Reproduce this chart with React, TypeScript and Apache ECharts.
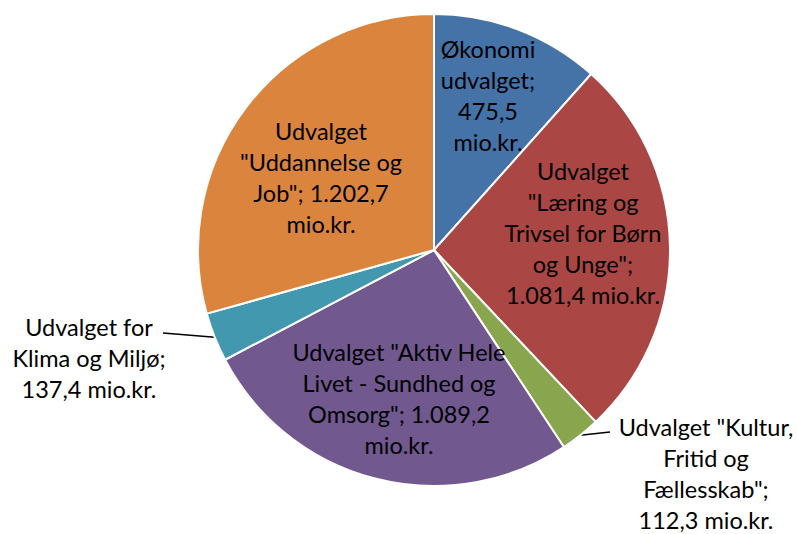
import React, { useEffect, useRef } from "react";
import * as echarts from "echarts";

const categories = [
  "Økonomiudvalget",
  "Udvalget \"Læring og Trivsel for Børn og Unge\"",
  "Udvalget \"Kultur, Fritid og Fællesskab\"",
  "Udvalget \"Aktiv Hele Livet - Sundhed og Omsorg\"",
  "Udvalget for Klima og Miljø",
  "Udvalget \"Uddannelse og Job\"",
];
const values = [475.5, 1081.4, 112.3, 1089.2, 137.4, 1202.7];
const labelTemplates = [
  "Økonomi\nudvalget;\n{v}\nmio.kr.",
  "Udvalget\n\"Læring og\nTrivsel for Børn\nog Unge\";\n{v} mio.kr.",
  "Udvalget \"Kultur,\nFritid og\nFællesskab\";\n{v} mio.kr.",
  "Udvalget \"Aktiv Hele\nLivet - Sundhed og\nOmsorg\"; {v}\nmio.kr.",
  "Udvalget for\nKlima og Miljø;\n{v} mio.kr.",
  "Udvalget\n\"Uddannelse og\nJob\"; {v}\nmio.kr.",
];
const outsideLabel = [false, false, true, false, true, false];

// layout (label centres, px) and leader-line end points for outside labels
const labelPos: [number, number][] = [
  [488, 95],
  [583, 233],
  [706, 473],
  [399, 398],
  [89, 358],
  [321, 177],
];
const leaderEnd: ([number, number] | null)[] = [null, null, [610, 432], null, null, null];
leaderEnd[4] = [163, 333];
const colors = ["#4572A7", "#AA4643", "#89A54E", "#71588F", "#4198AF", "#DB843D"];

function fmt(v: number): string {
  const [i, d] = v.toFixed(1).split(".");
  const withDots = i.replace(/\B(?=(\d{3})+(?!\d))/g, ".");
  return withDots + "," + d;
}

export default function App() {
  const ref = useRef<HTMLDivElement>(null);
  useEffect(() => {
    if (!ref.current) return;
    const chart = echarts.init(ref.current, undefined, { renderer: "svg" });
    chart.setOption({
      animation: false,
      backgroundColor: "#ffffff",
      series: [
        {
          type: "pie",
          center: [434, 250],
          radius: [0, 236],
          startAngle: 90,
          clockwise: true,
          itemStyle: { borderColor: "#ffffff", borderWidth: 2 },
          label: {
            fontFamily: "Lato, 'Open Sans', sans-serif",
            fontSize: 23.5,
            lineHeight: 31,
            color: "#000000",
            align: "center",
          },
          labelLine: { lineStyle: { color: "#000000", width: 1.5 }, length: 10, length2: 20 },
          labelLayout: (p: any) => {
            const i = p.dataIndex;
            const res: any = {
              x: labelPos[i][0],
              y: labelPos[i][1],
              align: "center",
              verticalAlign: "middle",
            };
            const end = leaderEnd[i];
            if (end && p.labelLinePoints && p.labelLinePoints[0]) {
              res.labelLinePoints = [p.labelLinePoints[0], end, end];
            }
            return res;
          },
          data: categories.map((name, i) => ({
            name,
            value: values[i],
            itemStyle: { color: colors[i] },
            label: {
              position: outsideLabel[i] ? "outside" : "inside",
              formatter: labelTemplates[i].replace("{v}", fmt(values[i])),
            },
            labelLine: { show: outsideLabel[i] },
          })),
        },
      ],
    });
    return () => chart.dispose();
  }, []);
  return (
    <div
      ref={ref}
      style={{ position: "fixed", left: 0, top: 0, width: 798, height: 534, background: "#fff" }}
    />
  );
}
